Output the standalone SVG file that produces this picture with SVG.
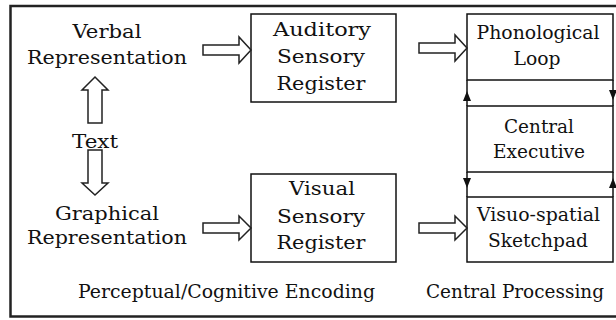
<svg xmlns="http://www.w3.org/2000/svg" width="616" height="320" viewBox="0 0 616 320">
<style>
text{font-family:"DejaVu Serif","Liberation Serif",serif;font-size:19px;fill:#111;text-anchor:middle}
.box{fill:#fff;stroke:#111;stroke-width:1.5}
.blk{fill:#fff;stroke:#222;stroke-width:1.5;stroke-linejoin:miter}
.con{fill:none;stroke:#111;stroke-width:1.5;marker-mid:url(#ah)}
</style>
<defs>
<marker id="ah" markerUnits="userSpaceOnUse" viewBox="0 0 10 8" refX="10" refY="4" markerWidth="10" markerHeight="8" orient="auto">
<path d="M0,0 L10,4 L0,8 z" fill="#111"/>
</marker>
</defs>
<rect x="0" y="0" width="616" height="320" fill="#fff"/>
<rect x="10.5" y="6" width="612" height="310.5" fill="none" stroke="#222" stroke-width="2.5"/>

<g id="verbal"><text x="107" y="38" textLength="69" lengthAdjust="spacingAndGlyphs">Verbal</text><text x="107" y="64" textLength="160" lengthAdjust="spacingAndGlyphs">Representation</text></g>
<g id="text"><text x="95" y="148" textLength="46" lengthAdjust="spacingAndGlyphs">Text</text></g>
<g id="graphical"><text x="107" y="220" textLength="104" lengthAdjust="spacingAndGlyphs">Graphical</text><text x="107" y="244" textLength="160" lengthAdjust="spacingAndGlyphs">Representation</text></g>

<g id="auditory"><rect class="box" x="251" y="14" width="145" height="88"/><text x="322" y="36" textLength="98" lengthAdjust="spacingAndGlyphs">Auditory</text><text x="321" y="63" textLength="88" lengthAdjust="spacingAndGlyphs">Sensory</text><text x="321" y="90" textLength="89" lengthAdjust="spacingAndGlyphs">Register</text></g>
<g id="visual"><rect class="box" x="251" y="174" width="145" height="88"/><text x="322" y="195" textLength="66" lengthAdjust="spacingAndGlyphs">Visual</text><text x="321" y="223" textLength="88" lengthAdjust="spacingAndGlyphs">Sensory</text><text x="321" y="249" textLength="89" lengthAdjust="spacingAndGlyphs">Register</text></g>

<g id="phonological"><rect class="box" x="467" y="14" width="146" height="66"/><text x="538" y="39" textLength="123" lengthAdjust="spacingAndGlyphs">Phonological</text><text x="537" y="65" textLength="47" lengthAdjust="spacingAndGlyphs">Loop</text></g>
<g id="central"><rect class="box" x="467" y="106" width="146" height="66"/><text x="539" y="133" textLength="70" lengthAdjust="spacingAndGlyphs">Central</text><text x="539" y="158" textLength="92" lengthAdjust="spacingAndGlyphs">Executive</text></g>
<g id="visuospatial"><rect class="box" x="467" y="197" width="146" height="65"/><text x="538.5" y="221" textLength="123" lengthAdjust="spacingAndGlyphs">Visuo-spatial</text><text x="538" y="247" textLength="100" lengthAdjust="spacingAndGlyphs">Sketchpad</text></g>

<g id="labels"><text x="226.5" y="298" textLength="297" lengthAdjust="spacingAndGlyphs">Perceptual/Cognitive Encoding</text><text x="515" y="298" textLength="178" lengthAdjust="spacingAndGlyphs">Central Processing</text></g>

<g id="connectors">
<path class="blk" d="M203,45 H239 V37 L251,50 L239,63 V55 H203 Z"/>
<path class="blk" d="M419,43 H455 V35 L467,48 L455,61 V53 H419 Z"/>
<path class="blk" d="M203,223 H239 V216 L251,228 L239,240 V233 H203 Z"/>
<path class="blk" d="M419,223 H455 V216 L467,228 L455,240 V233 H419 Z"/>
<path class="blk" d="M88,123 V90 H82 L95,77 L108,90 H102 V123 Z"/>
<path class="blk" d="M88,150 V183 H82 L95,195 L108,183 H102 V150 Z"/>
<path class="con" d="M467,106 L467,91 L467,80"/>
<path class="con" d="M613,80 L613,100 L613,106"/>
<path class="con" d="M467,172 L467,188 L467,197"/>
<path class="con" d="M613,197 L613,178 L613,172"/>
</g>
</svg>
